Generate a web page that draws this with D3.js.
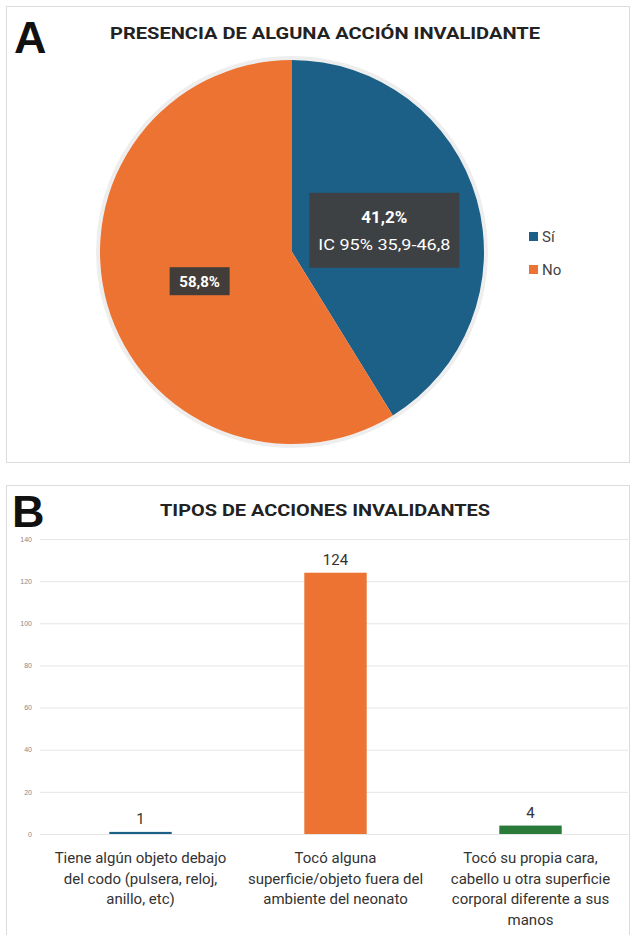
<!DOCTYPE html>
<html><head><meta charset="utf-8">
<script src="https://cdn.jsdelivr.net/npm/d3@7"></script>
<style>body{margin:0;background:#fff;} svg{display:block;}</style>
</head><body>
<script>
// Data
const pieLabels = ["Sí", "No"];
const pieValues = [41.2, 58.8];
const pieText = ["41,2%", "58,8%"];
const pieSubText = ["IC 95% 35,9-46,8", ""];
const pieColors = ["#1c5f87", "#ec7331"];

const barCategories = [
  ["Tiene algún objeto debajo", "del codo (pulsera, reloj,", "anillo, etc)"],
  ["Tocó alguna", "superficie/objeto fuera del", "ambiente del neonato"],
  ["Tocó su propia cara,", "cabello u otra superficie", "corporal diferente a sus", "manos"]
];
const barValues = [1, 124, 4];
const barColors = ["#1c5f87", "#ec7331", "#2a7a3a"];
const yTicks = [0, 20, 40, 60, 80, 100, 120, 140];

const W = 632, H = 935;
const svg = d3.select("body").append("svg").attr("width", W).attr("height", H)
  .style("font-family", "Roboto, 'Liberation Sans', sans-serif");

// Panel frames
svg.append("rect").attr("x", 6.5).attr("y", 6.5).attr("width", 623).attr("height", 456)
  .attr("fill", "#fff").attr("stroke", "#dcdcdc");
svg.append("rect").attr("x", 6.5).attr("y", 485.5).attr("width", 623).attr("height", 460)
  .attr("fill", "#fff").attr("stroke", "#dcdcdc");

// ---- Panel A ----
svg.append("text").attr("x", 14).attr("y", 53).text("A")
  .attr("font-size", 45).attr("font-weight", "bold").attr("fill", "#111")
  .attr("font-family", "'Liberation Sans', Arial, sans-serif");
svg.append("text").attr("x", 325).attr("y", 39).attr("text-anchor", "middle")
  .text("PRESENCIA DE ALGUNA ACCIÓN INVALIDANTE")
  .attr("font-size", 17).attr("font-weight", "bold").attr("fill", "#222")
  .attr("textLength", 430).attr("lengthAdjust", "spacingAndGlyphs");

const cx = 292, cy = 252, R = 192;
const pie = d3.pie().sort(null).value(d => d)(pieValues);
const arc = d3.arc().innerRadius(0).outerRadius(R);
const labelArc = d3.arc().innerRadius(96).outerRadius(96);
const gPie = svg.append("g").attr("transform", `translate(${cx},${cy})`);
gPie.append("circle").attr("r", R + 2).attr("fill", "none").attr("stroke", "#eee").attr("stroke-width", 4);
gPie.selectAll("path.slice").data(pie).join("path").attr("class", "slice")
  .attr("d", arc).attr("fill", (d, i) => pieColors[i]);

pie.forEach((d, i) => {
  const [lx, ly] = labelArc.centroid(d);
  const g = gPie.append("g").attr("transform", `translate(${lx},${ly})`);
  if (pieSubText[i]) {
    g.append("rect").attr("x", -75).attr("y", -33).attr("width", 150).attr("height", 75)
      .attr("fill", "#3f3f3f").attr("opacity", 0.95);
    g.append("text").attr("y", -3).attr("text-anchor", "middle").text(pieText[i])
      .attr("font-size", 17).attr("font-weight", "bold").attr("fill", "#fff");
    g.append("text").attr("y", 24).attr("text-anchor", "middle").text(pieSubText[i])
      .attr("font-size", 15).attr("fill", "#fff")
      .attr("textLength", 132).attr("lengthAdjust", "spacingAndGlyphs");
  } else {
    g.append("rect").attr("x", -30).attr("y", -11).attr("width", 60).attr("height", 28)
      .attr("fill", "#3a3a3a").attr("opacity", 0.95);
    g.append("text").attr("y", 9).attr("text-anchor", "middle").text(pieText[i])
      .attr("font-size", 15).attr("font-weight", "bold").attr("fill", "#fff");
  }
});

// Legend
pieLabels.forEach((l, i) => {
  const ly = 237 + i * 33;
  svg.append("rect").attr("x", 529).attr("y", ly - 5).attr("width", 9).attr("height", 9).attr("fill", pieColors[i]);
  svg.append("text").attr("x", 542).attr("y", ly + 5).text(l).attr("font-size", 15).attr("fill", "#444");
});

// ---- Panel B ----
svg.append("text").attr("x", 12).attr("y", 527).text("B")
  .attr("font-size", 45).attr("font-weight", "bold").attr("fill", "#111")
  .attr("font-family", "'Liberation Sans', Arial, sans-serif");
svg.append("text").attr("x", 325).attr("y", 516).attr("text-anchor", "middle")
  .text("TIPOS DE ACCIONES INVALIDANTES")
  .attr("font-size", 17).attr("font-weight", "bold").attr("fill", "#222")
  .attr("textLength", 330).attr("lengthAdjust", "spacingAndGlyphs");

const x = d3.scaleBand().domain(d3.range(barValues.length)).range([43, 628]).paddingInner(0.68).paddingOuter(0.34);
const y = d3.scaleLinear().domain([0, 140]).range([834, 539]);

const yAxis = d3.axisLeft(y).tickValues(yTicks).tickSize(-(628 - 40)).tickPadding(8);
const gy = svg.append("g").attr("transform", "translate(40,0)").call(yAxis);
gy.select(".domain").remove();
gy.selectAll(".tick line").attr("stroke", "#e6e6e6");
gy.selectAll(".tick text").attr("font-size", 7).attr("fill", "#888");

svg.selectAll("rect.bar").data(barValues).join("rect").attr("class", "bar")
  .attr("x", (d, i) => x(i)).attr("width", x.bandwidth())
  .attr("y", d => y(d)).attr("height", d => Math.max(2, y(0) - y(d)))
  .attr("fill", (d, i) => barColors[i]);

svg.selectAll("text.val").data(barValues).join("text").attr("class", "val")
  .attr("x", (d, i) => x(i) + x.bandwidth() / 2)
  .attr("y", d => Math.min(y(d), y(0) - 2) - 8)
  .attr("text-anchor", "middle").text(d => d)
  .attr("font-size", 15).attr("fill", "#333");

barCategories.forEach((lines, i) => {
  const t = svg.append("text").attr("text-anchor", "middle").attr("font-size", 15).attr("fill", "#333");
  lines.forEach((ln, j) => {
    t.append("tspan").attr("x", x(i) + x.bandwidth() / 2).attr("y", 863 + j * 20.5).text(ln);
  });
});
</script>
</body></html>
